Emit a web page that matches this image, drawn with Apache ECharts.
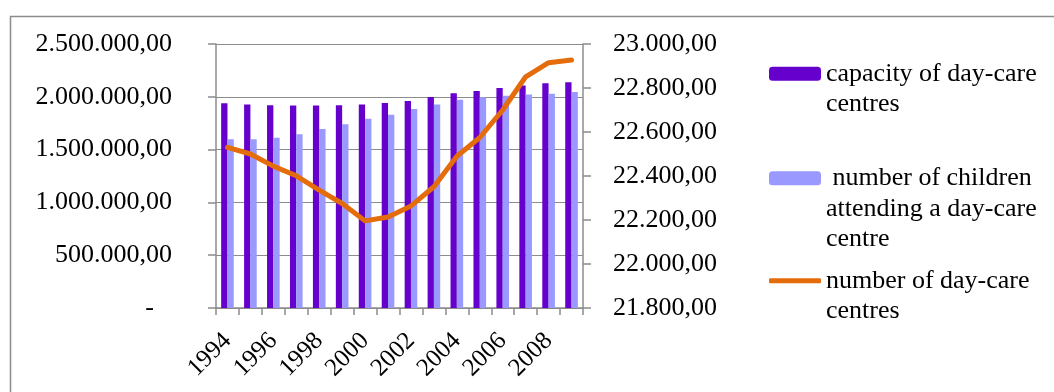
<!DOCTYPE html>
<html>
<head>
<meta charset="utf-8">
<script src="https://cdn.jsdelivr.net/npm/echarts@6/dist/echarts.min.js"></script>
<style>
html,body{margin:0;padding:0;background:#fff;}
#c{width:1054px;height:392px;}
</style>
</head>
<body>
<div id="c"></div>
<script>
const years = ['1994','1995','1996','1997','1998','1999','2000','2001','2002','2003','2004','2005','2006','2007','2008','2009'];
const capacity = [1939000,1926000,1920000,1917000,1917000,1920000,1926000,1942000,1961000,1999000,2034000,2056000,2084000,2106000,2129000,2138000];
const children = [1598000,1598000,1613000,1645000,1695000,1740000,1793000,1831000,1885000,1926000,1973000,1996000,2011000,2021000,2030000,2046000];
const centres = [22530,22500,22445,22401,22336,22275,22196,22214,22264,22351,22490,22575,22700,22851,22915,22927];
const seriesNames = ['capacity of day-care\ncentres', ' number of children\nattending a day-care\ncentre', 'number of day-care\ncentres'];

const FONT = 'Liberation Serif';
const GRAY = '#8c8c8c';

function fmt(v) {
  const s = Math.round(v).toString().replace(/\B(?=(\d{3})+(?!\d))/g, '.');
  return s + ',00';
}

const chart = echarts.init(document.getElementById('c'), null, {renderer: 'canvas'});
const legendBase = {
  orient: 'vertical', left: 769, padding: 0, itemWidth: 52, itemHeight: 14,
  selectedMode: false
};
// prepend blank lines so the first text line sits level with the icon
function legendFmt(name) {
  const n = name.split('\n').length;
  return '\n'.repeat(n - 1) + name;
}
const legendText = {fontFamily: FONT, fontSize: 26, color: '#000', lineHeight: 30.5};
chart.setOption({
  animation: false,
  graphic: [{
    type: 'rect', left: 8, top: 14,
    shape: {x: 0, y: 0, width: 1100, height: 400},
    style: {fill: 'none', stroke: GRAY, lineWidth: 1.5}, silent: true
  }],
  grid: {left: 216, right: 471, top: 44, bottom: 84},
  legend: [
    Object.assign({}, legendBase, {top: 28, data: [seriesNames[0]], textStyle: legendText, formatter: legendFmt}),
    Object.assign({}, legendBase, {top: 102, data: [seriesNames[1]], textStyle: legendText, formatter: legendFmt}),
    Object.assign({}, legendBase, {top: 235, itemHeight: 5, data: [{name: seriesNames[2], icon: 'roundRect'}], textStyle: legendText, formatter: legendFmt})
  ],
  xAxis: {
    type: 'category', data: years, boundaryGap: true,
    axisLine: {lineStyle: {color: GRAY, width: 1.5}},
    axisTick: {show: true, interval: 0, length: 7, lineStyle: {color: GRAY, width: 1.5}},
    axisLabel: {interval: 1, rotate: 45, margin: 29, fontFamily: FONT, fontSize: 25, color: '#000'}
  },
  yAxis: [{
    type: 'value', min: 0, max: 2500000, interval: 500000, position: 'left',
    axisLine: {show: true, lineStyle: {color: GRAY, width: 1.5}},
    axisTick: {show: true, length: 8, lineStyle: {color: GRAY, width: 1.5}},
    splitLine: {show: true, lineStyle: {color: GRAY, width: 1.2}},
    axisLabel: {
      margin: 44, fontFamily: FONT, fontSize: 26, color: '#000',
      formatter: v => v === 0 ? '{d|-}' : fmt(v),
      rich: {d: {fontFamily: FONT, fontSize: 26, color: '#000', padding: [0, 18, 0, 0]}}
    }
  }, {
    type: 'value', min: 21800, max: 23000, interval: 200, position: 'right',
    axisLine: {show: true, lineStyle: {color: GRAY, width: 1.5}},
    axisTick: {show: true, length: 8, lineStyle: {color: GRAY, width: 1.5}},
    splitLine: {show: false},
    axisLabel: {margin: 30, fontFamily: FONT, fontSize: 26, color: '#000', formatter: v => fmt(v)}
  }],
  series: [{
    name: seriesNames[0], type: 'bar', data: capacity, yAxisIndex: 0,
    itemStyle: {color: '#6600CC'}, barGap: '0%', barCategoryGap: '45%'
  }, {
    name: seriesNames[1], type: 'bar', data: children, yAxisIndex: 0,
    itemStyle: {color: '#9999FF'}
  }, {
    name: seriesNames[2], type: 'line', data: centres, yAxisIndex: 1,
    symbol: 'none', smooth: false, z: 5,
    lineStyle: {color: '#E46C0A', width: 5, cap: 'round', join: 'round'},
    itemStyle: {color: '#E46C0A'}
  }]
});
</script>
</body>
</html>
